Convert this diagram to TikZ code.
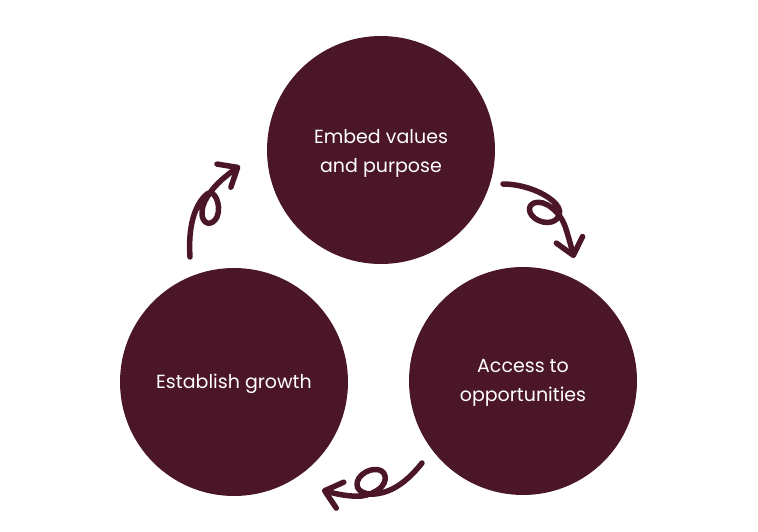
\documentclass[tikz,border=0pt]{standalone}
\usepackage{fontspec}
\setmainfont{Poppins}
\usetikzlibrary{arrows.meta}
\definecolor{maroon}{HTML}{4A1628}
\tikzset{
  blob/.style={circle, fill=maroon, minimum size=228pt, inner sep=0pt,
    text=white, align=center, font=\fontsize{19}{29}\selectfont},
  label/.style={text=white, align=center, font=\fontsize{19}{29}\selectfont},
  swirl/.style={draw=maroon, line width=5.5pt, line cap=round, line join=round,
    -{Straight Barb[length=16pt, width=27pt, line cap=round, line join=round]}}
}
\begin{document}
\begin{tikzpicture}[x=1pt, y=-1pt]
\useasboundingbox (0,0) rectangle (758,532);
\node[blob] (top) at (381,150) {};
\node[blob] (left) at (234,382) {};
\node[blob] (right) at (523,381) {};
\node[label] (toptext) at ([yshift=-3pt]top.center) {Embed values\\and purpose};
\node[label] (lefttext) at ([yshift=-2pt]left.center) {Establish growth};
\node[label] (righttext) at ([yshift=-2pt]right.center) {Access to\\opportunities};
% arrow from left circle to top circle
\coordinate (a1s) at (190,257);
\coordinate (a1e) at (240,166);
\draw[swirl] (a1s) .. controls (188,228) and (194,205) .. (207,194)
  .. controls (214,188) and (222,205) .. (217,217)
  .. controls (212,227) and (201,225) .. (202,211)
  .. controls (203,199) and (215,185) .. (225,177)
  .. controls (230,173) and (235,169) .. (a1e);
% arrow from top circle to right circle
\coordinate (a2s) at (503,184);
\coordinate (a2e) at (574,258);
\draw[swirl] (a2s) .. controls (522,184) and (545,192) .. (556,204)
  .. controls (565,214) and (556,225) .. (543,222)
  .. controls (530,219) and (525,207) .. (534,203)
  .. controls (545,199) and (560,212) .. (565,226)
  .. controls (569,238) and (572,250) .. (a2e);
% arrow from right circle to left circle
\coordinate (a3s) at (422,463);
\coordinate (a3e) at (322,490);
\draw[swirl] (a3s) .. controls (410,478) and (395,492) .. (375,494)
  .. controls (361,495) and (353,488) .. (359,478)
  .. controls (366,468) and (383,466) .. (385,476)
  .. controls (387,486) and (375,494) .. (362,496)
  .. controls (350,497) and (336,494) .. (a3e);
\end{tikzpicture}
\end{document}
